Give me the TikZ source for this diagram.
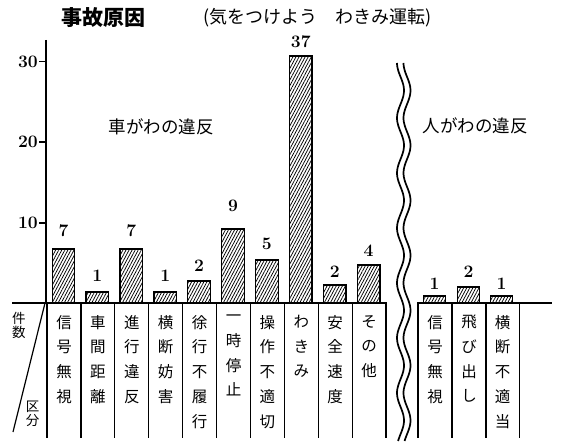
\documentclass[tikz,border=0pt]{standalone}
\usepackage{fontspec}
\newfontfamily\jp{Noto Sans CJK JP}
\usetikzlibrary{patterns.meta}
\tikzset{
  bar/.style={draw,line width=1.3pt,pattern={Lines[angle=62,distance=2.7pt,line width=0.75pt]}},
  val/.style={anchor=south,inner sep=0pt,font=\bfseries\fontsize{17.5}{17.5}\selectfont},
  kubun/.style={anchor=north,inner sep=0pt,align=center,font=\jp\fontsize{15.5}{24.7}\selectfont},
  small/.style={inner sep=0pt,align=center,font=\jp\fontsize{13.5}{14}\selectfont},
  group/.style={inner sep=0pt,font=\jp\fontsize{17.5}{17.5}\selectfont},
  sep/.style={line width=1.2pt},
  wave/.style={line width=1.7pt},
}
\begin{document}
\begin{tikzpicture}[x=1pt,y=-1pt]
\useasboundingbox (0,0) rectangle (588,441);
% title
\node[anchor=west,inner sep=0pt,font=\jp\bfseries\fontsize{21}{21}\selectfont] (title) at (61,18) {事故原因};
\node[anchor=west,inner sep=0pt,font=\jp\fontsize{18}{18}\selectfont] (sub) at (203,18) {(気をつけよう　わきみ運転)};
% axis and ticks
\coordinate (top) at (46,40);
\coordinate (o) at (46,303);
\draw[line width=2.4pt] (top) -- (o);
\foreach \v/\yy in {30/61.5,20/142,10/223}{
  \coordinate (t\v) at (46,\yy);
  \coordinate (tt\v) at (39,\yy);
  \draw[sep] (t\v) -- (tt\v);
  \node[anchor=east,inner sep=1pt,font=\bfseries\fontsize{17.5}{17.5}\selectfont] (l\v) at (tt\v) {\v};
}
% base lines
\coordinate (b0) at (12,303);
\coordinate (b1) at (387,303);
\coordinate (b2) at (417,303);
\coordinate (b3) at (552,303);
\draw[line width=1.8pt] (b0) -- (b1);
\draw[line width=1.8pt] (b2) -- (b3);
% column lines
\foreach \i in {0,...,10}{
  \coordinate (ca\i) at (47+33.9*\i,303);
  \coordinate (cb\i) at (47+33.9*\i,438);
  \draw[sep] (ca\i) -- (cb\i);
}
\foreach \xx [count=\i] in {418,452,486,519.5}{
  \coordinate (da\i) at (\xx,303);
  \coordinate (db\i) at (\xx,438);
  \draw[sep] (da\i) -- (db\i);
}
% corner
\coordinate (d0) at (45,303);
\coordinate (d1) at (13,432);
\draw[sep] (d0) -- (d1);
\node[small] (kensu) at (19,325) {件\\数};
\node[small] (kubun) at (32.5,414) {区\\分};
% group labels
\node[group] (car) at (161,127) {車がわの違反};
\node[group] (man) at (475,126) {人がわの違反};
% bars, car side
\foreach \i/\v/\t/\lb in {0/7/249/237,1/1/292/282,2/7/249/237,3/1/292/282,4/2/281/272,
    5/9/229/212,6/5/260/250,7/37/56/48,8/2/285/278,9/4/265/257}{
  \pgfmathsetmacro\cx{63.5+33.9*\i}
  \draw[bar] (\cx-11.3,303) rectangle (\cx+11.3,\t);
  \node[val] (v\i) at (\cx,\lb) {\v};
}
% bars, pedestrian side
\foreach \cx/\v/\t/\lb [count=\i] in {434.5/1/296/290,468.5/2/287/278,501.5/1/296/290}{
  \draw[bar] (\cx-11.3,303) rectangle (\cx+11.3,\t);
  \node[val] (w\i) at (\cx,\lb) {\v};
}
% category labels
\foreach \txt [count=\i from 0] in {信\\号\\無\\視,車\\間\\距\\離,進\\行\\違\\反,横\\断\\妨\\害,
    徐\\行\\不\\履\\行,一\\時\\停\\止,操\\作\\不\\適\\切,わ\\き\\み,安\\全\\速\\度,そ\\の\\他}{
  \node[kubun] (k\i) at (64+33.9*\i,315) {\txt};
}
\foreach \txt/\cx [count=\i] in {信\\号\\無\\視/435,飛\\び\\出\\し/469,横\\断\\不\\適\\当/502.5}{
  \node[kubun] (p\i) at (\cx,315) {\txt};
}
% wavy break
\draw[wave] plot[variable=\t,domain=63:441,samples=160,smooth] ({400.5-3.5*cos(6.5455*(\t-63))},\t);
\draw[wave] plot[variable=\t,domain=63:441,samples=160,smooth] ({407-3.5*cos(6.5455*(\t-63))},\t);
\end{tikzpicture}
\end{document}
